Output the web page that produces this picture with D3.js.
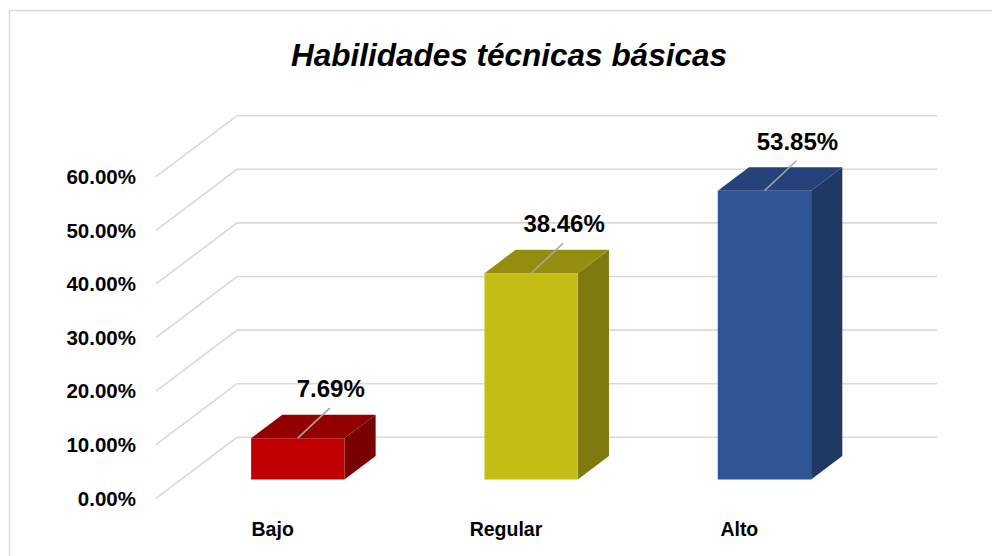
<!DOCTYPE html>
<html>
<head>
<meta charset="utf-8">
<script src="https://cdn.jsdelivr.net/npm/d3@7"></script>
<style>
  html, body { margin: 0; padding: 0; background: #fff; }
  svg { display: block; font-family: "Liberation Sans", Arial, sans-serif; }
</style>
</head>
<body>
<div id="chart"></div>
<script>
// chart data
const categories = ['Bajo', 'Regular', 'Alto'];
const values = [0.0769, 0.3846, 0.5385];
const tickValues = [0, 0.1, 0.2, 0.3, 0.4, 0.5, 0.6];
const barColors = [
    { front: '#C00000', top: '#930000', side: '#780000' },
    { front: '#C4BD14', top: '#938E0F', side: '#7E7A0E' },
    { front: '#2F5597', top: '#25437A', side: '#203864' }
];
const title = 'Habilidades técnicas básicas';

const width = 992, height = 556;

// oblique 3D projection: depth t in [0,1] moves the point up and right
const depthX = 81, depthY = 61;
const proj = (x, y, t) => [x + depthX * t, y - depthY * t];
const barDepth0 = 0.31, barDepth1 = 0.695;

const svg = d3.select('#chart').append('svg')
    .attr('width', width)
    .attr('height', height);

// chart frame
svg.append('rect')
    .attr('x', 9.5).attr('y', 10.5)
    .attr('width', 1000).attr('height', 600)
    .attr('fill', '#fff')
    .attr('stroke', '#D9D9D9')
    .attr('stroke-width', 1.5);

const x = d3.scaleBand()
    .domain(categories)
    .range([156, 856])
    .padding(0);

const y = d3.scaleLinear()
    .domain([0, 0.6])
    .range([498.3, 176.7]);

const fmt = d3.format('.2%');

// title
svg.append('text')
    .attr('x', 509)
    .attr('y', 66)
    .attr('text-anchor', 'middle')
    .style('font-size', '31.5px')
    .style('font-weight', 'bold')
    .style('font-style', 'italic')
    .text(title);

// gridlines: diagonal on the side wall + horizontal on the back wall
const grid = svg.append('g').attr('class', 'grid');
tickValues.forEach(v => {
    const left = x.range()[0];
    const right = x.range()[1];
    const p0 = proj(left, y(v), 0);
    const p1 = proj(left, y(v), 1);
    const p2 = proj(right, y(v), 1);
    grid.append('polyline')
        .attr('points', [p0, p1, p2].map(p => p.join(',')).join(' '))
        .attr('fill', 'none')
        .attr('stroke', '#D9D9D9')
        .attr('stroke-width', 1.6);
});

// y axis labels
svg.append('g')
    .selectAll('text')
    .data(tickValues)
    .enter().append('text')
    .attr('x', 136)
    .attr('y', d => y(d))
    .attr('dy', '0.36em')
    .attr('text-anchor', 'end')
    .style('font-size', '20.5px')
    .style('font-weight', 'bold')
    .text(d => fmt(d));

// category labels
svg.append('g')
    .selectAll('text')
    .data(categories)
    .enter().append('text')
    .attr('x', d => x(d) + x.bandwidth() / 2)
    .attr('y', 536)
    .attr('text-anchor', 'middle')
    .style('font-size', '19.5px')
    .style('font-weight', 'bold')
    .text(d => d);

// bars
const barW = x.bandwidth() * 0.4;
const pts = arr => arr.map(p => p.join(',')).join(' ');

const bars = svg.append('g')
    .selectAll('g')
    .data(categories.map((c, i) => ({ cat: c, value: values[i], color: barColors[i] })))
    .enter().append('g');

bars.each(function (d) {
    const g = d3.select(this);
    const x0 = x(d.cat) + (x.bandwidth() - barW) / 2;
    const x1 = x0 + barW;
    const yb = y(0), yt = y(d.value);
    const a = t => [proj(x0, yt, t), proj(x1, yt, t), proj(x1, yb, t), proj(x0, yb, t)];
    const f = a(barDepth0);
    const b = a(barDepth1);

    // side face
    g.append('polygon')
        .attr('points', pts([f[1], b[1], b[2], f[2]]))
        .attr('fill', d.color.side);
    // top face
    g.append('polygon')
        .attr('points', pts([f[0], b[0], b[1], f[1]]))
        .attr('fill', d.color.top);
    // front face
    g.append('polygon')
        .attr('points', pts(f))
        .attr('fill', d.color.front);

    // leader line + value label
    const cx = (f[0][0] + f[1][0]) / 2;
    const cy = f[0][1];
    g.append('line')
        .attr('x1', cx).attr('y1', cy)
        .attr('x2', cx + 32).attr('y2', cy - 30)
        .attr('stroke', '#A6A6A6')
        .attr('stroke-width', 1.6);
    g.append('text')
        .attr('x', cx + 33)
        .attr('y', cy - 41)
        .attr('text-anchor', 'middle')
        .style('font-size', '24px')
        .style('font-weight', 'bold')
        .text(fmt(d.value));
});
</script>
</body>
</html>
